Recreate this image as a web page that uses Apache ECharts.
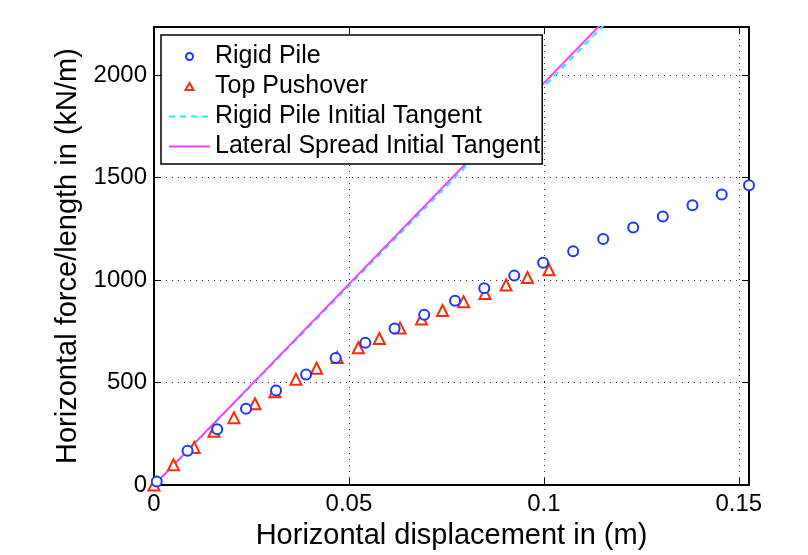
<!DOCTYPE html>
<html>
<head>
<meta charset="utf-8">
<title>Horizontal force vs displacement</title>
<script src="https://cdn.jsdelivr.net/npm/echarts@6/dist/echarts.min.js"></script>
<style>
  html, body { margin: 0; padding: 0; background: #fff; }
  #report-container { width: 808px; height: 555px; }
</style>
</head>
<body>
<div id="report-container"></div>
<script>
// values: displacement (m), force/length (kN/m)
var rigidX = [0.0007, 0.0086, 0.0162, 0.0236, 0.0313, 0.0390, 0.0466, 0.0542, 0.0617, 0.0693, 0.0772,
              0.0847, 0.0924, 0.0998, 0.1075, 0.1152, 0.1229, 0.1305, 0.1381, 0.1456, 0.1526];
var rigidY = [18, 168, 273, 373, 461, 540, 620, 694, 764, 831, 899,
              961, 1022, 1085, 1141, 1201, 1257, 1310, 1365, 1418, 1463];

var pushX = [0, 0.0050, 0.0103, 0.0154, 0.0205, 0.0259, 0.0310, 0.0364, 0.0417, 0.0470,
             0.0524, 0.0578, 0.0631, 0.0686, 0.0740, 0.0794, 0.0849, 0.0903, 0.0958, 0.1013];
var pushY = [0, 99, 184, 263, 329, 397, 456, 517, 570, 622,
             670, 715, 766, 810, 852, 895, 935, 976, 1013, 1051];

// initial tangent lines (start, end)
var rigidTanX = [0, 0.12];
var rigidTanY = [0, 2334];
var spreadTanX = [0, 0.12];
var spreadTanY = [0, 2354];

var xTicks = [0, 0.05, 0.1, 0.15];
var yTicks = [0, 500, 1000, 1500, 2000];

var legendNames = ['Rigid Pile', 'Top Pushover', 'Rigid Pile Initial Tangent', 'Lateral Spread Initial Tangent'];

function pairs(xs, ys) {
    var out = [];
    for (var i = 0; i < xs.length; i++) out.push([xs[i], ys[i]]);
    return out;
}

var dom = document.getElementById('report-container');
var myChart = echarts.init(dom, null, { renderer: 'canvas' });

var font = 'Liberation Sans, Arial, Helvetica, sans-serif';
var xMax = 0.1526, yMax = 2235;
var blue = '#1a38ff', red = '#ff2a08', cyan = '#10f4ff', magenta = '#ff3cff';

// small triangle centred in the 41x7 legend slot (the moves pin the bounds so it isn't stretched)
var legendTriangle = 'path://M0,0M41,0M41,7M0,7M16.5,7L20.5,0L24.5,7Z';

function isTick(list, v) {
    for (var i = 0; i < list.length; i++) if (Math.abs(list[i] - v) < 1e-9) return true;
    return false;
}

var boxAxis = {
    axisLine: { show: true, onZero: false, lineStyle: { color: '#000', width: 2 } },
    axisTick: { show: true, inside: true, length: 7, lineStyle: { color: '#000', width: 1 } },
    axisLabel: { show: false },
    splitLine: { show: false }
};

var option = {
    backgroundColor: '#fff',
    animation: false,
    textStyle: { fontFamily: font },
    grid: { left: 154, right: 59, top: 27, bottom: 64 },
    legend: {
        data: [
            { name: legendNames[0], icon: 'emptyCircle', itemStyle: { color: blue, borderColor: blue, borderWidth: 2, opacity: 1 } },
            { name: legendNames[1], icon: legendTriangle, itemStyle: { color: '#fff', borderColor: red, borderWidth: 2, opacity: 1 } },
            { name: legendNames[2], itemStyle: { opacity: 0 } },
            { name: legendNames[3], itemStyle: { opacity: 0 } }
        ],
        orient: 'vertical',
        left: 161,
        top: 35,
        padding: [9, 2, 5, 7],
        itemGap: 5,
        itemWidth: 41,
        itemHeight: 7,
        symbolKeepAspect: true,
        backgroundColor: '#fff',
        borderColor: '#000',
        borderWidth: 1.5,
        borderRadius: 0,
        textStyle: { fontFamily: font, fontSize: 25, color: '#000' },
        z: 10
    },
    xAxis: [
        Object.assign({}, boxAxis, {
            type: 'value', min: 0, max: xMax, interval: 0.05, position: 'bottom',
            name: 'Horizontal displacement in (m)', nameLocation: 'middle', nameGap: 28,
            nameTextStyle: { fontSize: 29, color: '#000', fontFamily: font },
            axisLabel: {
                show: true, margin: 7, color: '#000', fontSize: 24, fontFamily: font,
                showMaxLabel: false,
                formatter: function (v) { return isTick(xTicks, v) ? String(v) : ''; }
            },
            splitLine: { show: true, lineStyle: { color: '#333', width: 1, type: [1, 5] } }
        }),
        Object.assign({}, boxAxis, { type: 'value', min: 0, max: xMax, interval: 0.05, position: 'top' })
    ],
    yAxis: [
        Object.assign({}, boxAxis, {
            type: 'value', min: 0, max: yMax, interval: 500, position: 'left',
            name: 'Horizontal force/length in (kN/m)', nameLocation: 'middle', nameGap: 58,
            nameTextStyle: { fontSize: 29, color: '#000', fontFamily: font },
            axisLabel: {
                show: true, margin: 7, color: '#000', fontSize: 24, fontFamily: font,
                showMaxLabel: false,
                formatter: function (v) { return isTick(yTicks, v) ? String(v) : ''; }
            },
            splitLine: { show: true, lineStyle: { color: '#333', width: 1, type: [1, 5] } }
        }),
        Object.assign({}, boxAxis, { type: 'value', min: 0, max: yMax, interval: 500, position: 'right' })
    ],
    series: [
        {
            name: legendNames[0],
            type: 'scatter',
            symbol: 'emptyCircle',
            symbolSize: 10,
            itemStyle: { color: blue, borderColor: blue, borderWidth: 2, opacity: 1 },
            data: pairs(rigidX, rigidY),
            clip: false,
            z: 4
        },
        {
            name: legendNames[1],
            type: 'scatter',
            symbol: 'emptyTriangle',
            symbolSize: 11,
            itemStyle: { color: red, borderColor: red, borderWidth: 2, opacity: 1 },
            data: pairs(pushX, pushY),
            clip: false,
            z: 3
        },
        {
            name: legendNames[2],
            type: 'line',
            symbol: 'none',
            lineStyle: { color: cyan, width: 2, type: [6, 5] },
            itemStyle: { color: cyan },
            data: pairs(rigidTanX, rigidTanY),
            z: 2
        },
        {
            name: legendNames[3],
            type: 'line',
            symbol: 'none',
            lineStyle: { color: magenta, width: 2 },
            itemStyle: { color: magenta },
            data: pairs(spreadTanX, spreadTanY),
            z: 2
        }
    ]
};

if (option && typeof option === 'object') {
    myChart.setOption(option, true);
}
</script>
</body>
</html>
